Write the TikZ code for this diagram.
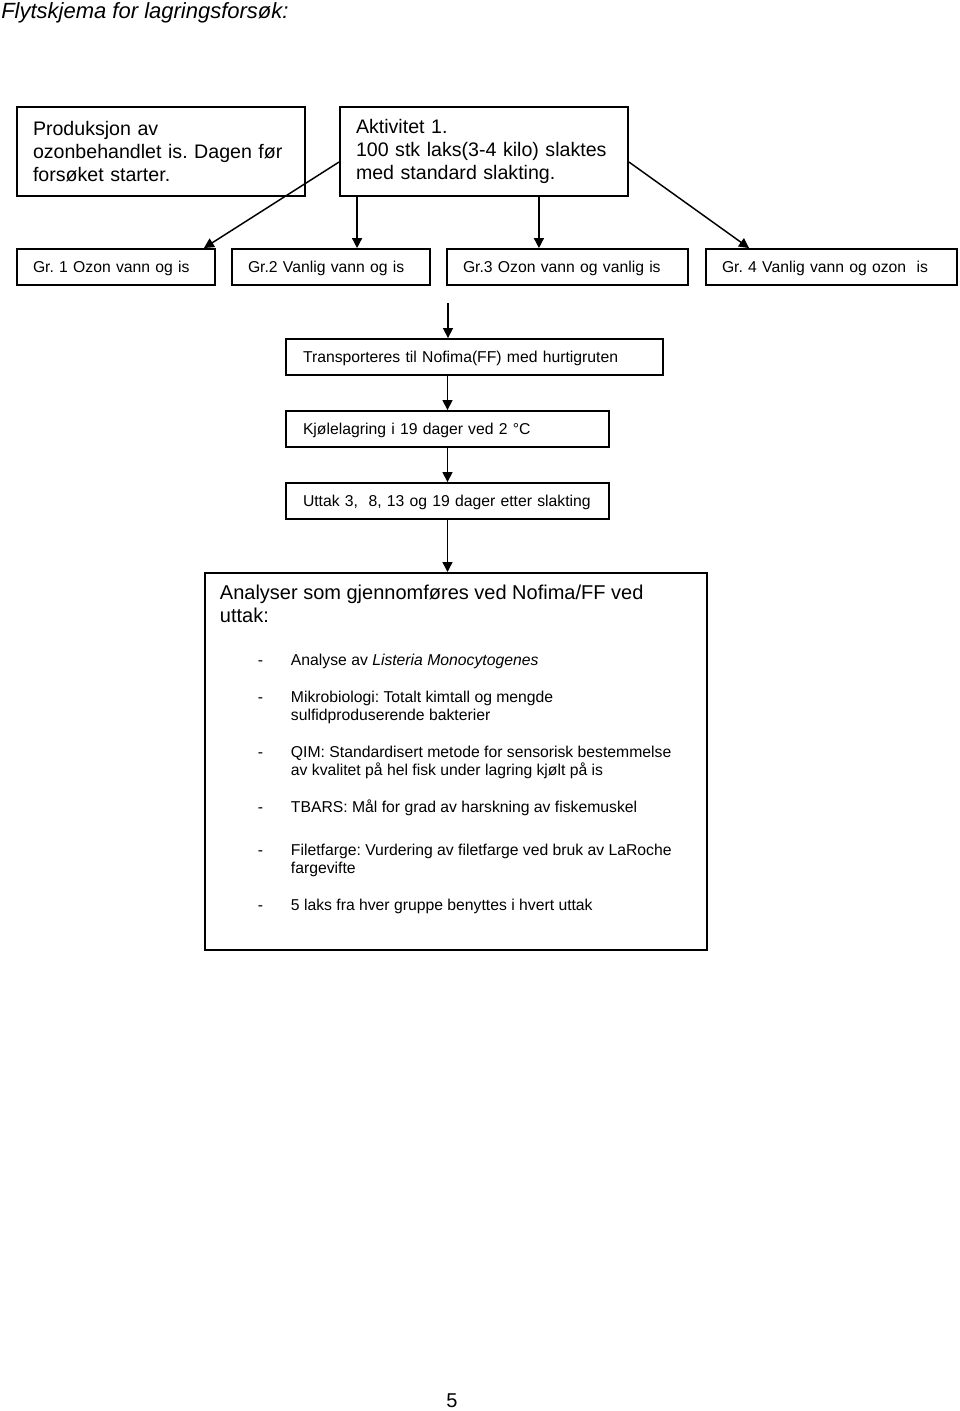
\documentclass[tikz,border=0pt]{standalone}
\usepackage{fontspec}
\setmainfont{Liberation Sans}
\usetikzlibrary{arrows.meta,calc}
\newcommand\myitem[1]{\hangindent=64.5pt\hangafter=1\hspace*{39.75pt}\makebox[24.75pt][l]{-}#1\par}
\begin{document}
\frenchspacing
\begin{tikzpicture}[x=0.75pt,y=-0.75pt,
  bx/.style={draw=black,line width=1.4pt,rectangle,inner ysep=0pt,inner xsep=12pt,align=left,font=\fontsize{11.8}{13.5}\selectfont},
  big/.style={font=\fontsize{14.7}{17}\selectfont},
  sgl/.style={text height=11pt,text depth=2.4pt},
  arr/.style={line width=1.1pt,-{Triangle[width=7.5pt,length=7.5pt]}}]
\useasboundingbox (0,0) rectangle (960,1411);

\node[anchor=base west,inner sep=0pt,font=\fontsize{16.5}{19}\selectfont\itshape] (ttl) at (1,18) {Flytskjema for lagringsforsøk:};

\node[bx,big,text width=192pt,minimum height=66.75pt] (P) at (161,151.5) {\mbox{Produksjon av}\\\mbox{ozonbehandlet is. Dagen før}\\\mbox{forsøket starter.}};
\node[bx,big,text width=192pt,minimum height=66.75pt] (A) at (484,151.5) {\mbox{Aktivitet 1.}\\\mbox{100 stk laks(3-4 kilo) slaktes}\\\mbox{med standard slakting.}};

\node[bx,sgl,text width=124.5pt,minimum height=27pt] (G1) at (116,267) {\mbox{Gr. 1 Ozon vann og is}};
\node[bx,sgl,text width=124.5pt,minimum height=27pt] (G2) at (331,267) {\mbox{Gr.2 Vanlig vann og is}};
\node[bx,sgl,text width=156.75pt,minimum height=27pt] (G3) at (567.5,267) {\mbox{Gr.3 Ozon vann og vanlig is}};
\node[bx,sgl,text width=164.25pt,minimum height=27pt] (G4) at (831.5,267) {\mbox{Gr. 4 Vanlig vann og ozon\ \ is}};

\node[bx,sgl,inner xsep=12.75pt,text width=257.25pt,minimum height=27pt] (T) at (474.5,357) {\mbox{Transporteres til Nofima(FF) med hurtigruten}};
\node[bx,sgl,inner xsep=12.75pt,text width=216.75pt,minimum height=27pt] (K) at (447.5,429) {\mbox{Kjølelagring i 19 dager ved 2 °C}};
\node[bx,sgl,inner xsep=12.75pt,text width=216.75pt,minimum height=27pt] (U) at (447.5,501) {\mbox{Uttak 3,\ \ 8, 13 og 19 dager etter slakting}};

\node[draw=black,line width=1.4pt,inner sep=0pt,anchor=north west] (An) at (204,572) {\begin{minipage}[t][282.75pt][t]{376.5pt}%
\setlength{\parindent}{0pt}\setlength{\parskip}{0pt}\frenchspacing%
{\fontsize{15}{17.25}\selectfont\leftskip=11.25pt\rule{0pt}{20.25pt}Analyser som gjennomføres ved Nofima/FF ved\\uttak:\par}
\fontsize{11.8}{13.5}\selectfont
\vspace{18.75pt}
\myitem{Analyse av \textit{Listeria Monocytogenes}}
\vspace{14.25pt}
\myitem{Mikrobiologi: Totalt kimtall og mengde\\sulfidproduserende bakterier}
\vspace{14.25pt}
\myitem{QIM: Standardisert metode for sensorisk bestemmelse\\av kvalitet på hel fisk under lagring kjølt på is}
\vspace{14.25pt}
\myitem{TBARS: Mål for grad av harskning av fiskemuskel}
\vspace{18.75pt}
\myitem{Filetfarge: Vurdering av filetfarge ved bruk av LaRoche\\fargevifte}
\vspace{14.25pt}
\myitem{5 laks fra hver gruppe benyttes i hvert uttak}
\end{minipage}};

\node[font=\fontsize{15}{17}\selectfont] (pg) at (452,1401) {5};

\draw[arr] ($(A.west)+(0,10.5)$) -- ($(G1.north east)+(-12,0)$);
\draw[arr] ($(A.south west)+(18,0)$) coordinate (a2) -- (a2 |- G2.north);
\draw[arr] ($(A.south east)+(-90,0)$) coordinate (a3) -- (a3 |- G3.north);
\draw[arr] ($(A.east)+(0,10.5)$) -- ($(G4.north west)+(44,0)$);

\coordinate (c0) at (448,303);
\draw[arr] (c0) -- (c0 |- T.north);
\draw[arr] (K.north |- T.south) -- (K.north);
\draw[arr] (K.south) -- (U.north);
\draw[arr] (U.south) -- (U.south |- An.north);
\end{tikzpicture}
\end{document}
